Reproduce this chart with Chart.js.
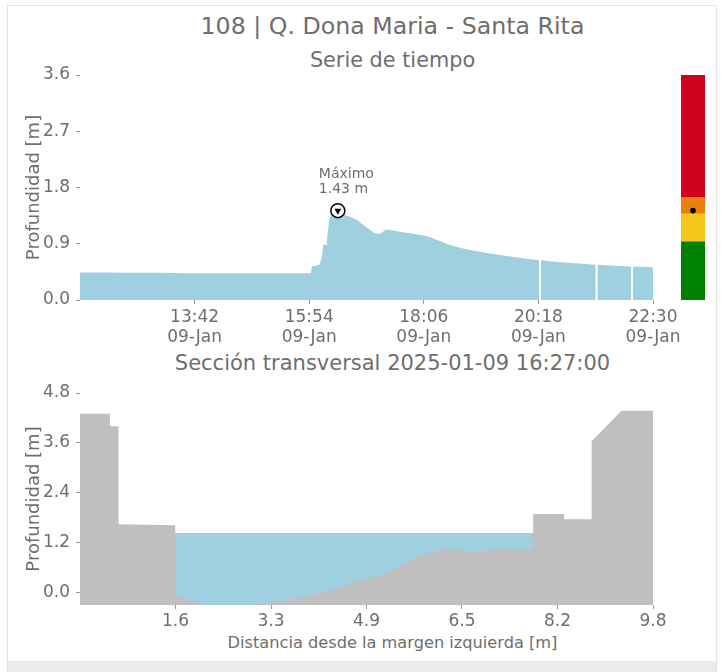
<!DOCTYPE html>
<html>
<head>
<meta charset="utf-8">
<script src="https://cdn.jsdelivr.net/npm/chart.js@4.4.1/dist/chart.umd.min.js"></script>
<style>
  html, body { margin: 0; padding: 0; background: #fff; }
  body { width: 721px; height: 672px; position: relative; overflow: hidden; font-family: 'DejaVu Sans', sans-serif; color: #6e6e6e; }
  .card { position: absolute; left: 7px; top: 5px; width: 708px; height: 700px; border: 1px solid #e4e4e4; }
  .foot { position: absolute; left: 8px; top: 661px; width: 708px; height: 11px; background: #ebebeb; }
  canvas { position: absolute; }
  .ttl { position: absolute; left: 80px; width: 625px; text-align: center; white-space: nowrap; line-height: 1; }
</style>
</head>
<body>
<div class="card"></div>
<div class="foot"></div>
<div class="ttl" style="top:15px;font-size:23.7px;">108 | Q. Dona Maria - Santa Rita</div>
<div class="ttl" style="top:49.5px;font-size:20.8px;">Serie de tiempo</div>
<div class="ttl" style="top:352.5px;font-size:21px;">Sección transversal 2025-01-09 16:27:00</div>
<div class="ttl" style="top:635px;font-size:16.2px;">Distancia desde la margen izquierda [m]</div>
<canvas id="serie" width="721" height="360" style="left:0;top:0;"></canvas>
<canvas id="niveles" width="24" height="225" style="left:681px;top:75px;"></canvas>
<canvas id="seccion" width="721" height="332" style="left:0;top:340px;"></canvas>
<script>
// serie de tiempo: hora y profundidad [m] (null = dato faltante)
const horas = ['11:30', '12:00', '12:30', '13:00', '13:30', '14:00', '14:30', '15:00', '15:30', '15:50',
  '15:56', '15:57', '16:02', '16:06', '16:08', '16:09', '16:10', '16:13', '16:14', '16:15', '16:17', '16:19',
  '16:23', '16:27', '16:30', '16:33', '16:40', '16:49', '16:56', '17:04', '17:10', '17:14', '17:18', '17:22',
  '17:28', '17:40', '18:00', '18:10', '18:20', '18:36', '18:50', '19:00', '19:20', '19:40', '20:00',
  '20:19', '20:20', '20:21', '20:40', '21:00', '21:24', '21:25', '21:26', '21:45', '22:05', '22:06', '22:07', '22:30'];
const profundidad = [0.44, 0.44, 0.435, 0.435, 0.43, 0.43, 0.43, 0.43, 0.43, 0.43,
  0.43, 0.54, 0.55, 0.57, 0.66, 0.72, 0.88, 0.89, 0.87, 1.04, 1.28, 1.36,
  1.39, 1.43, 1.40, 1.37, 1.34, 1.28, 1.21, 1.12, 1.07, 1.055, 1.08, 1.13,
  1.12, 1.09, 1.05, 1.02, 0.97, 0.88, 0.83, 0.80, 0.75, 0.71, 0.67,
  0.635, null, 0.635, 0.61, 0.59, 0.565, null, 0.565, 0.55, 0.535, null, 0.535, 0.525];
const ticksHora = ['11:30', '13:42', '15:54', '18:06', '20:18', '22:30'];
const fechaTick = '09-Jan';
const ticksProf = [0, 0.9, 1.8, 2.7, 3.6];
const horaMaximo = '16:27';
const valorMaximo = 1.43;

// niveles de alerta [m]
const nivelInf = [0, 0.93, 1.38, 1.64];
const nivelSup = [0.93, 1.38, 1.64, 3.6];
const nivelColor = ['#008000', '#f6c71b', '#e9800b', '#d0021b'];

// sección transversal
const distancia = [0, 0.51, 0.51, 0.66, 0.66, 1.63, 1.63, 2.14, 2.7, 3.19, 3.71, 4.22, 4.79, 5.24,
  5.76, 6.24, 6.8, 7.26, 7.75, 7.75, 8.28, 8.28, 8.75, 8.75, 9.26, 9.8];
const cota = [4.30, 4.30, 4.00, 4.00, 1.64, 1.62, -0.08, -0.31, -0.34, -0.26, -0.13, 0.02, 0.30, 0.45,
  0.88, 1.04, 0.99, 1.06, 1.04, 1.89, 1.89, 1.76, 1.76, 3.64, 4.37, 4.37];
const nivelAgua = 1.43;
const ticksDist = [0, 1.633, 3.267, 4.9, 6.533, 8.167, 9.8];
const ticksSeccion = [0, 1.2, 2.4, 3.6, 4.8];

const gris = '#6e6e6e';
const grisTick = '#9a9a9a';
const azul = '#9ed0e0';
const fuente = 'DejaVu Sans';
Chart.defaults.color = gris;
Chart.defaults.font.family = fuente;

const aMin = h => { const p = h.split(':').map(Number); return p[0] * 60 + p[1]; };

function ejeY(min, max, valores, titulo) {
  return {
    min: min, max: max,
    afterBuildTicks: s => { s.ticks = valores.map(v => ({ value: v })); },
    afterFit: s => { s.width = 56; },
    ticks: { font: { size: 17 }, padding: 6, callback: v => v.toFixed(1) },
    grid: { drawOnChartArea: false, drawTicks: true, tickLength: 4, tickColor: grisTick },
    border: { display: false },
    title: { display: true, text: titulo, font: { size: 18 }, padding: 0 }
  };
}

function ejeX(min, max, valores, etiqueta, alto, pad) {
  return {
    type: 'linear', min: min, max: max,
    afterBuildTicks: s => { s.ticks = valores.map(v => ({ value: v })); },
    afterFit: s => { s.height = alto; },
    ticks: { font: { size: 17 }, padding: pad, autoSkip: false, maxRotation: 0,
      callback: (v, i) => i === 0 ? '' : etiqueta(i) },
    grid: { drawOnChartArea: false, drawTicks: true, tickLength: 4,
      tickColor: c => c.index === 0 ? 'rgba(0,0,0,0)' : grisTick },
    border: { display: false }
  };
}

// 1. SERIE DE TIEMPO
const etiquetaMaximo = {
  id: 'etiquetaMaximo',
  afterDatasetsDraw(chart) {
    const x = chart.scales.x.getPixelForValue(aMin(horaMaximo));
    const y = chart.scales.y.getPixelForValue(valorMaximo);
    const ctx = chart.ctx;
    ctx.save();
    ctx.font = '14px "DejaVu Sans"';
    ctx.fillStyle = gris;
    ctx.fillText('Máximo', x - 19, y - 32.5);
    ctx.fillText(valorMaximo.toFixed(2) + ' m', x - 19, y - 17.5);
    ctx.restore();
  }
};

new Chart(document.getElementById('serie'), {
  type: 'line',
  data: {
    datasets: [
      { data: [{ x: aMin(horaMaximo), y: valorMaximo }], showLine: false, pointStyle: 'triangle', rotation: 180,
        pointRadius: 4, pointBackgroundColor: '#000', pointBorderWidth: 0 },
      { data: [{ x: aMin(horaMaximo), y: valorMaximo }], showLine: false, pointStyle: 'circle',
        pointRadius: 7, pointBackgroundColor: '#fff', pointBorderColor: '#000', pointBorderWidth: 1.5 },
      { data: horas.map((h, i) => ({ x: aMin(h), y: profundidad[i] })), fill: 'origin',
        backgroundColor: azul, borderColor: 'rgba(0,0,0,0)', borderWidth: 0, pointRadius: 0, spanGaps: false }
    ]
  },
  options: {
    responsive: false, animation: false,
    layout: { autoPadding: false, padding: { left: 24, right: 68, top: 75, bottom: 10 } },
    plugins: { legend: { display: false }, tooltip: { enabled: false } },
    scales: {
      x: ejeX(aMin(ticksHora[0]), aMin(ticksHora[ticksHora.length - 1]), ticksHora.map(aMin),
        i => [ticksHora[i], fechaTick], 50, 3),
      y: ejeY(0, 3.6, ticksProf, 'Profundidad [m]')
    }
  },
  plugins: [etiquetaMaximo]
});

// 2. BARRA DE NIVELES
new Chart(document.getElementById('niveles'), {
  type: 'bar',
  data: {
    labels: [''],
    datasets: [
      { type: 'line', data: [valorMaximo], showLine: false, pointRadius: 2.8,
        pointBackgroundColor: '#000', pointBorderWidth: 0 },
      ...nivelInf.map((lo, i) => ({
        data: [[lo, nivelSup[i]]], backgroundColor: nivelColor[i], borderWidth: 0,
        barPercentage: 1, categoryPercentage: 1, grouped: false
      }))
    ]
  },
  options: {
    responsive: false, animation: false,
    layout: { autoPadding: false, padding: 0 },
    plugins: { legend: { display: false }, tooltip: { enabled: false } },
    scales: { x: { display: false }, y: { display: false, min: 0, max: 3.6 } }
  }
});

// 3. SECCIÓN TRANSVERSAL
new Chart(document.getElementById('seccion'), {
  type: 'line',
  data: {
    datasets: [
      { data: distancia.map((d, i) => ({ x: d, y: cota[i] })), fill: 'start',
        backgroundColor: '#bfbfbf', borderColor: 'rgba(0,0,0,0)', borderWidth: 0, pointRadius: 0 },
      { data: [{ x: 0, y: nivelAgua }, { x: 9.8, y: nivelAgua }], fill: 'start',
        backgroundColor: azul, borderColor: 'rgba(0,0,0,0)', borderWidth: 0, pointRadius: 0 }
    ]
  },
  options: {
    responsive: false, animation: false,
    layout: { autoPadding: false, padding: { left: 24, right: 68, top: 53, bottom: 19.5 } },
    plugins: { legend: { display: false }, tooltip: { enabled: false } },
    scales: {
      x: ejeX(0, 9.8, ticksDist, i => ticksDist[i].toFixed(1), 47.5, 2),
      y: ejeY(-0.3, 4.8, ticksSeccion, 'Profundidad [m]')
    }
  }
});
</script>
</body>
</html>
